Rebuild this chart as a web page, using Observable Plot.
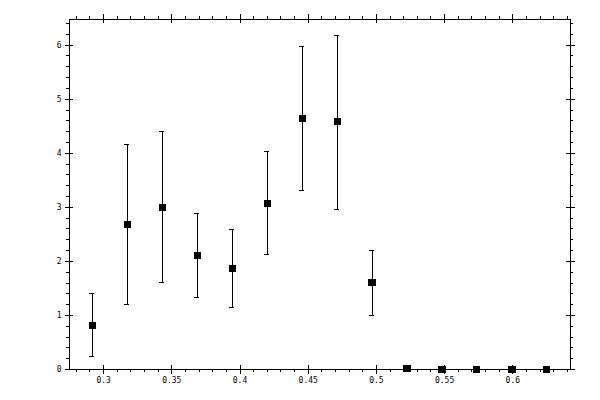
<!DOCTYPE html>
<html>
<head>
<meta charset="utf-8">
<script src="https://cdn.jsdelivr.net/npm/d3@7"></script>
<script src="https://cdn.jsdelivr.net/npm/@observablehq/plot@0.6"></script>
<style>
  html, body { margin: 0; padding: 0; background: #fff; }
  #chart svg { display: block; }
  #chart svg line, #chart svg rect, #chart svg path { shape-rendering: crispEdges; }
</style>
</head>
<body>
<div id="chart"></div>
<script>
const xValues = [0.2917, 0.3173, 0.3429, 0.3686, 0.3942, 0.4199, 0.4455, 0.4712, 0.4968, 0.5224, 0.5481, 0.5737, 0.5994, 0.6250];
const yValues = [0.81, 2.68, 3.00, 2.11, 1.87, 3.07, 4.64, 4.58, 1.61, 0.02, 0, 0, 0, 0];
const yLow    = [0.24, 1.20, 1.61, 1.34, 1.15, 2.13, 3.31, 2.96, 1.00, null, null, null, null, null];
const yHigh   = [1.40, 4.17, 4.40, 2.89, 2.59, 4.03, 5.98, 6.17, 2.20, null, null, null, null, null];

const xMajorTicks = [0.3, 0.35, 0.4, 0.45, 0.5, 0.55, 0.6];
const xTickLabels = ["0.3", "0.35", "0.4", "0.45", "0.5", "0.55", "0.6"];
const yMajorTicks = [0, 1, 2, 3, 4, 5, 6];
const yTickLabels = ["0", "1", "2", "3", "4", "5", "6"];
const xMinorTicks = d3.range(28, 65).map(i => i / 100).filter(v => !xMajorTicks.some(m => Math.abs(m - v) < 1e-9));
const yMinorTicks = d3.range(1, 33).map(i => i / 5).filter(v => !yMajorTicks.some(m => Math.abs(m - v) < 1e-9));

const data = xValues.map((x, i) => ({x, y: yValues[i], lo: yLow[i], hi: yHigh[i]}));
const bars = data.filter(d => d.lo != null);

const W = 600, H = 400;
const mL = 69, mR = 30, mT = 19, mB = 31;
const iw = W - mL - mR, ih = H - mT - mB;

const chart = Plot.plot({
  width: W,
  height: H,
  marginLeft: mL,
  marginRight: mR,
  marginTop: mT,
  marginBottom: mB,
  style: {fontFamily: "DejaVu Sans Mono", fontSize: "8px", background: "#fff", color: "#000"},
  x: {domain: [0.275, 0.6423], axis: null, label: null},
  y: {domain: [0, 6.475], axis: null, label: null},
  marks: [
    Plot.frame({stroke: "#000", strokeWidth: 1}),
    // bottom ticks
    Plot.ruleX(xMajorTicks, {x: d => d, insetTop: ih - 4, insetBottom: -5, stroke: "#000"}),
    Plot.ruleX(xMinorTicks, {x: d => d, insetTop: ih, insetBottom: -3, stroke: "#000"}),
    // top ticks
    Plot.ruleX(xMajorTicks, {x: d => d, insetTop: -5, insetBottom: ih - 4, stroke: "#000"}),
    Plot.ruleX(xMinorTicks, {x: d => d, insetTop: -3, insetBottom: ih, stroke: "#000"}),
    // left ticks
    Plot.ruleY(yMajorTicks, {y: d => d, insetLeft: -4, insetRight: iw - 4, stroke: "#000"}),
    Plot.ruleY(yMinorTicks, {y: d => d, insetLeft: -3, insetRight: iw, stroke: "#000"}),
    // right ticks
    Plot.ruleY(yMajorTicks, {y: d => d, insetLeft: iw - 4, insetRight: -5, stroke: "#000"}),
    Plot.ruleY(yMinorTicks, {y: d => d, insetLeft: iw, insetRight: -3, stroke: "#000"}),
    // tick labels
    Plot.axisX(xMajorTicks, {anchor: "bottom", tickSize: 0, tickPadding: 8, label: null, tickFormat: (d, i) => xTickLabels[i]}),
    Plot.axisY(yMajorTicks, {anchor: "left", tickSize: 0, tickPadding: 8, label: null, tickFormat: (d, i) => yTickLabels[i]}),
    // error bars
    Plot.ruleX(bars, {x: "x", y1: "lo", y2: "hi", stroke: "#000", strokeWidth: 1}),
    Plot.ruleY(bars, {y: "hi", x1: "x", x2: "x", insetLeft: -2.5, insetRight: -2.5, stroke: "#000"}),
    Plot.ruleY(bars, {y: "lo", x1: "x", x2: "x", insetLeft: -2.5, insetRight: -2.5, stroke: "#000"}),
    // points
    Plot.dot(data, {x: "x", y: "y", symbol: "square", r: 4, fill: "#000", stroke: null})
  ]
});
document.getElementById("chart").appendChild(chart);
</script>
</body>
</html>
